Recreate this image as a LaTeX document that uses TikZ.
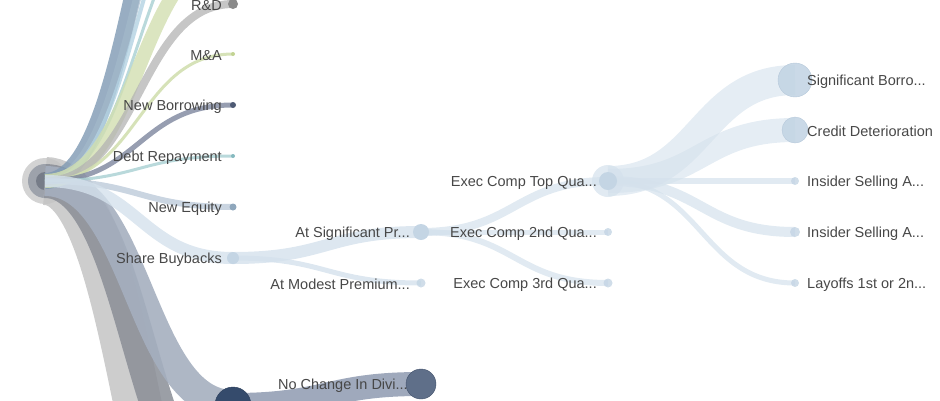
\documentclass[tikz,border=0pt]{standalone}
\usepackage{fontspec}
\setmainfont{Liberation Sans}
\usetikzlibrary{positioning}
\usetikzlibrary{backgrounds}

\definecolor{txtgray}{HTML}{474747}
\definecolor{steelln}{HTML}{7E99B3}
\definecolor{steellt}{HTML}{A3B8CB}
\definecolor{skyln}{HTML}{B3D2E2}
\definecolor{tealln}{HTML}{A8CFD2}
\definecolor{tealdot}{HTML}{85B9BF}
\definecolor{sageln}{HTML}{D2DFB0}
\definecolor{sagedot}{HTML}{C2D392}
\definecolor{ashln}{HTML}{B3B3B3}
\definecolor{ashdot}{HTML}{8A8A8A}
\definecolor{slateln}{HTML}{7D869E}
\definecolor{slatedot}{HTML}{4E5A74}
\definecolor{mistln}{HTML}{BDCBDA}
\definecolor{mistdot}{HTML}{8FA7BC}
\definecolor{iceln}{HTML}{D4E1EC}
\definecolor{icedot}{HTML}{C4D5E4}
\definecolor{icerim}{HTML}{B5C8DA}
\definecolor{navydot}{HTML}{354B6C}
\definecolor{navyrim}{HTML}{2A3D59}
\definecolor{duskln}{HTML}{A5AFBF}
\definecolor{duskdkln}{HTML}{8E9AB0}
\definecolor{duskdot}{HTML}{5F6F89}
\definecolor{duskrim}{HTML}{44536C}
\definecolor{smokeln}{HTML}{8A8E97}
\definecolor{fogln}{HTML}{C4C4C4}
\definecolor{rootring}{HTML}{C8C8C8}
\definecolor{rootmid}{HTML}{9DA2AB}
\definecolor{rootcore}{HTML}{767C88}

\begin{document}
\begin{tikzpicture}[x=1pt, y=-1pt]
    \tikzset{
    dot/.style=
    {
        circle,
        inner sep=0pt,
        minimum size=#1
    },
    branch/.style=
    {
        line cap=butt,
        to path={.. controls ([xshift=94pt]\tikztostart) and ([xshift=-94pt]\tikztotarget) .. (\tikztotarget)}
    },
    tag/.style=
    {
        font=\fontsize{14.5}{17}\selectfont,
        text=txtgray,
        inner sep=0pt,
        yshift=-1.5pt
    }
}

  \useasboundingbox (0,0) rectangle (940,400);
  \clip (0,0) rectangle (940,400);

  \node[dot=46pt] (root) at (45,181) {};

  \coordinate (up5) at (233,-251);
  \coordinate (up4) at (233,-200);
  \coordinate (up3) at (233,-149);
  \coordinate (up2) at (233,-98);
  \coordinate (up1) at (233,-47);
  \coordinate (down1) at (233,507);
  \coordinate (down2) at (233,640);

  \node[dot=10pt, fill=ashdot] (RD) at (233,4) {};
  \node[dot=4pt, fill=sagedot] (MA) at (233,54) {};
  \node[dot=6pt, fill=slatedot] (NB) at (233,105) {};
  \node[dot=4pt, fill=tealdot] (DR) at (233,156) {};
  \node[dot=7pt, fill=mistdot] (NE) at (233,207) {};
  \node[dot=12pt, fill=icedot] (SB) at (233,258) {};
  \node[dot=36pt, fill=navydot, draw=navyrim] (ND) at (233,405) {};

  \node[dot=16pt, fill=icedot] (AS) at (421,232) {};
  \node[dot=9pt, fill=icedot, fill opacity=.8] (AM) at (421,283) {};
  \node[dot=30pt, fill=duskdot, draw=duskrim] (NC) at (421,384) {};

  \node[dot=18pt, fill=icedot] (ET) at (608,181) {};
  \node[dot=8pt, fill=icedot, fill opacity=.8] (E2) at (608,232) {};
  \node[dot=9pt, fill=icedot, fill opacity=.8] (E3) at (608,283) {};

  \node[dot=34pt, fill=icedot, draw=icerim, fill opacity=.9] (SBo) at (795,80) {};
  \node[dot=26pt, fill=icedot, draw=icerim, fill opacity=.9] (CD) at (795,130) {};
  \node[dot=8pt, fill=icedot, fill opacity=.8] (IS1) at (795,181) {};
  \node[dot=10pt, fill=icedot, fill opacity=.8] (IS2) at (795,232) {};
  \node[dot=8pt, fill=icedot, fill opacity=.8] (LO) at (795,283) {};

  \begin{scope}[on background layer]
    \fill[rootring, opacity=.8] (root.center) circle[radius=23pt];
    \fill[rootmid] (root.center) circle[radius=17pt];
    \fill[rootcore] (root.center) circle[radius=9pt];

    \draw[branch, draw=fogln, line width=48pt, opacity=.85] (root.center) to (down2);
    \draw[branch, draw=smokeln, line width=34pt, opacity=.85] (root.center) to (down1);
    \draw[branch, draw=duskln, line width=30pt, opacity=.9] (root.center) to (ND.center);
    \draw[branch, draw=steelln, line width=16pt, opacity=.8] (root.center) to (up5);
    \draw[branch, draw=steellt, line width=8pt, opacity=.7] (root.center) to (up4);
    \draw[branch, draw=skyln, line width=4pt, opacity=.8] (root.center) to (up3);
    \draw[branch, draw=tealln, line width=3pt, opacity=.8] (root.center) to (up2);
    \draw[branch, draw=sageln, line width=14pt, opacity=.8] (root.center) to (up1);
    \draw[branch, draw=ashln, line width=8pt, opacity=.75] (root.center) to (RD.center);
    \draw[branch, draw=sageln, line width=3pt, opacity=.9] (root.center) to (MA.center);
    \draw[branch, draw=slateln, line width=5pt, opacity=.8] (root.center) to (NB.center);
    \draw[branch, draw=tealln, line width=3pt, opacity=.8] (root.center) to (DR.center);
    \draw[branch, draw=mistln, line width=6pt, opacity=.8] (root.center) to (NE.center);
    \draw[branch, draw=iceln, line width=12pt, opacity=.8] (root.center) to (SB.center);

    \draw[branch, draw=iceln, line width=12pt, opacity=.8] (SB.center) to (AS.center);
    \draw[branch, draw=iceln, line width=5pt, opacity=.8] (SB.center) to (AM.center);
    \draw[branch, draw=duskdkln, line width=24pt, opacity=.85] (ND.center) to (NC.center);

    \draw[branch, draw=iceln, line width=8pt, opacity=.7] (AS.center) to (ET.center);
    \draw[branch, draw=iceln, line width=5pt, opacity=.7] (AS.center) to (E2.center);
    \draw[branch, draw=iceln, line width=6pt, opacity=.7] (AS.center) to (E3.center);

    \fill[iceln, opacity=.7] (ET.center) circle[radius=16pt];
    \draw[branch, draw=iceln, line width=30pt, opacity=.6] (ET.center) to (SBo.center);
    \draw[branch, draw=iceln, line width=24pt, opacity=.6] (ET.center) to (CD.center);
    \draw[branch, draw=iceln, line width=6pt, opacity=.7] (ET.center) to (IS1.center);
    \draw[branch, draw=iceln, line width=10pt, opacity=.7] (ET.center) to (IS2.center);
    \draw[branch, draw=iceln, line width=5pt, opacity=.7] (ET.center) to (LO.center);
  \end{scope}

  \node[tag, left=11pt of RD.center] (RDt) {R\&D};
  \node[tag, left=11pt of MA.center] (MAt) {M\&A};
  \node[tag, left=11pt of NB.center] (NBt) {New Borrowing};
  \node[tag, left=11pt of DR.center] (DRt) {Debt Repayment};
  \node[tag, left=11pt of NE.center] (NEt) {New Equity};
  \node[tag, left=11pt of SB.center] (SBt) {Share Buybacks};

  \node[tag, left=11pt of AS.center] (ASt) {At Significant Pr...};
  \node[tag, left=11pt of AM.center] (AMt) {At Modest Premium...};
  \node[tag, left=13pt of NC.center] (NCt) {No Change In Divi...};

  \node[tag, left=11pt of ET.center] (ETt) {Exec Comp Top Qua...};
  \node[tag, left=11pt of E2.center] (E2t) {Exec Comp 2nd Qua...};
  \node[tag, left=11pt of E3.center] (E3t) {Exec Comp 3rd Qua...};

  \node[tag, right=12pt of SBo.center] (SBot) {Significant Borro...};
  \node[tag, right=12pt of CD.center] (CDt) {Credit Deterioration};
  \node[tag, right=12pt of IS1.center] (IS1t) {Insider Selling A...};
  \node[tag, right=12pt of IS2.center] (IS2t) {Insider Selling A...};
  \node[tag, right=12pt of LO.center] (LOt) {Layoffs 1st or 2n...};

\end{tikzpicture}
\end{document}
